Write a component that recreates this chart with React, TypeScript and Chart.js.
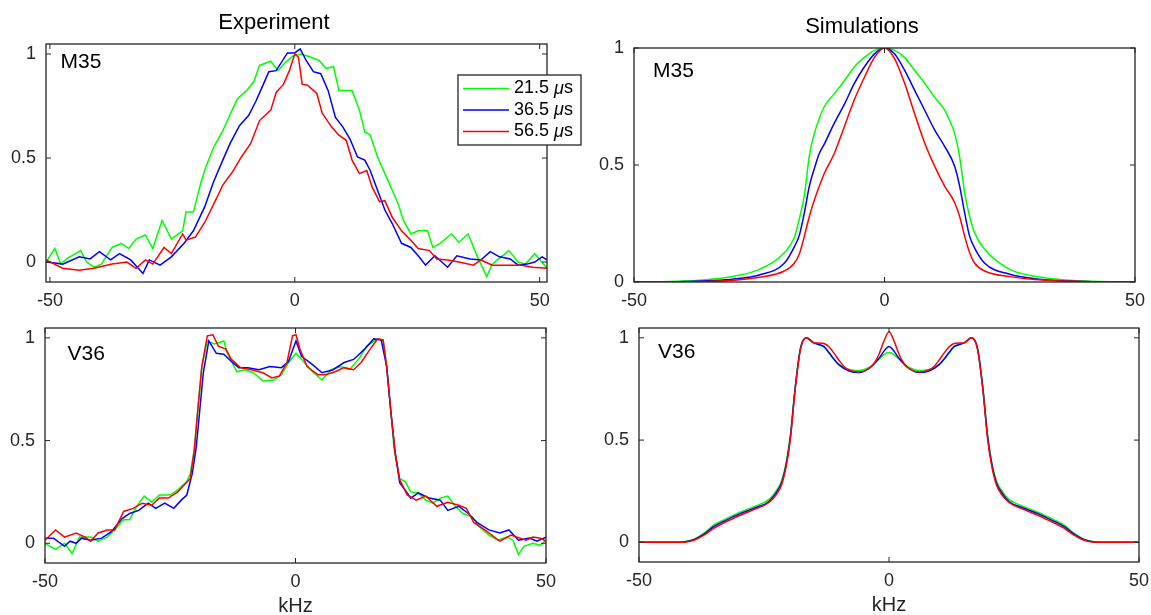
import React, { useEffect, useRef } from 'react';
import { Chart, registerables } from 'chart.js';

Chart.register(...registerables);

// ---------- data ----------
const SERIES_LABELS = ['21.5 μs', '36.5 μs', '56.5 μs'];
const SERIES_COLORS = ['#00ff00', '#0000ff', '#ff0000'];
const X_TICKS = [-50, 0, 50];
const Y_TICKS = [0, 0.5, 1];
const PANEL_TITLES = ['Experiment', 'Simulations'];
const PANEL_TAGS = ['M35', 'M35', 'V36', 'V36'];
const X_LABEL = 'kHz';

// Experiment, M35 (x in kHz, normalized intensity)
const EXP_M35_215: number[][] = [
  [-50.8, 0.0], [-49, 0.065], [-47.8, -0.01], [-46.3, 0.02], [-43.7, 0.055], [-42.5, 0.0], [-41, -0.025],
  [-39.5, -0.01], [-37.3, 0.07], [-35.4, 0.09], [-33.9, 0.065], [-32.4, 0.11], [-30.5, 0.13], [-29, 0.065],
  [-27.1, 0.2], [-25.2, 0.11], [-22.9, 0.15], [-22.2, 0.24], [-20.7, 0.24], [-19.2, 0.38], [-18.1, 0.46],
  [-16.6, 0.55], [-14.7, 0.63], [-13.2, 0.71], [-11.7, 0.785], [-9.8, 0.825], [-8.3, 0.87], [-7.2, 0.945],
  [-4.9, 0.965], [-3.4, 0.92], [-1.9, 0.96], [-0.4, 0.99], [1.1, 1.0], [2.6, 0.99], [4.9, 0.97], [6.4, 0.93],
  [7.9, 0.94], [9.0, 0.825], [11.7, 0.825], [13.2, 0.73], [14.3, 0.625], [15.4, 0.61], [16.9, 0.505],
  [18.4, 0.425], [19.9, 0.345], [21.1, 0.28], [22.2, 0.2], [23.7, 0.135], [25.2, 0.15], [27.1, 0.15],
  [28.2, 0.07], [29.7, 0.09], [32, 0.135], [33.5, 0.095], [35.4, 0.135], [37.3, 0.025], [39.2, -0.07],
  [40.3, -0.01], [43.7, 0.055], [45.6, 0.0], [47.1, -0.01], [49, 0.04], [51.5, -0.03],
];
const EXP_M35_365: number[][] = [
  [-50.8, 0.0], [-49, -0.005], [-47.4, -0.01], [-44, 0.025], [-41.8, 0.015], [-39.9, 0.05], [-37.6, 0.01],
  [-35.8, 0.04], [-33.5, 0.01], [-31, -0.055], [-29.7, 0.01], [-27.5, -0.015], [-25.2, 0.025], [-22.6, 0.09],
  [-20.7, 0.15], [-18.4, 0.265], [-16.6, 0.385], [-14.7, 0.49], [-13.2, 0.57], [-11.3, 0.655], [-9.4, 0.705],
  [-7.9, 0.775], [-6.4, 0.855], [-5.3, 0.915], [-3.8, 0.92], [-1.5, 1.005], [0, 1.005], [1.1, 1.025],
  [2.3, 0.97], [3.8, 0.915], [5.3, 0.905], [6.8, 0.825], [8.3, 0.695], [9.8, 0.65], [11.3, 0.59],
  [12.8, 0.505], [14.3, 0.49], [15.4, 0.44], [16.9, 0.345], [18.4, 0.25], [19.9, 0.185], [21.8, 0.09],
  [23.7, 0.07], [25.2, 0.03], [26.7, -0.015], [28.6, 0.03], [31.2, -0.025], [33.1, 0.03], [35.8, 0.015],
  [38, 0.01], [39.9, 0.05], [41.8, 0.025], [44, 0.015], [45.6, -0.015], [47.4, -0.01], [49, 0.0],
  [50.5, 0.025], [51.5, 0.01],
];
const EXP_M35_565: number[][] = [
  [-50.8, 0.01], [-47.4, -0.03], [-44, -0.04], [-41, -0.03], [-37.3, -0.01], [-34.3, 0.0], [-32.4, -0.03],
  [-30.5, 0.01], [-29, -0.01], [-26.7, 0.07], [-25.2, 0.04], [-22.9, 0.135], [-22.2, 0.105], [-20.3, 0.12],
  [-18.4, 0.19], [-16.2, 0.295], [-14.7, 0.37], [-12.8, 0.43], [-10.9, 0.505], [-9, 0.57], [-7.2, 0.68],
  [-4.9, 0.73], [-3.8, 0.815], [-2.3, 0.855], [-1.1, 0.92], [0, 1.0], [0.75, 0.985], [1.5, 0.855],
  [2.6, 0.85], [4.5, 0.81], [5.6, 0.715], [7.5, 0.65], [9, 0.61], [10.5, 0.585], [11.7, 0.49], [13.2, 0.425],
  [14.7, 0.44], [15.8, 0.36], [17.3, 0.29], [18.4, 0.295], [19.9, 0.215], [21.8, 0.15], [23.7, 0.105],
  [25.2, 0.065], [27.5, 0.055], [29, 0.015], [31.2, 0.01], [33.5, 0.0], [36.5, -0.015], [38, 0.01],
  [40.3, -0.015], [43.3, -0.015], [46.3, -0.015], [48.6, -0.025], [51.5, -0.03],
];

// Simulations, M35
const SIM_M35_215: number[][] = [
  [-50, 0], [-40, 0.004], [-30, 0.025], [-25, 0.054], [-20, 0.125], [-18, 0.19], [-17, 0.27], [-16, 0.37],
  [-15, 0.54], [-14, 0.635], [-13, 0.7], [-12, 0.75], [-10, 0.805], [-8, 0.86], [-6, 0.92], [-4, 0.96],
  [-2, 0.99], [0, 1], [2, 0.99], [4, 0.96], [6, 0.905], [8, 0.85], [10, 0.79], [12, 0.735], [13, 0.69],
  [14, 0.635], [15, 0.535], [16, 0.38], [17, 0.28], [18, 0.21], [20, 0.14], [25, 0.054], [30, 0.025],
  [40, 0.004], [50, 0],
];
const SIM_M35_365: number[][] = [
  [-50, 0], [-40, 0.002], [-30, 0.013], [-25, 0.03], [-20, 0.08], [-18, 0.15], [-17, 0.2], [-16, 0.295],
  [-15, 0.41], [-14, 0.485], [-13, 0.55], [-12, 0.59], [-10, 0.68], [-8, 0.76], [-6, 0.85], [-4, 0.92],
  [-2, 0.975], [0, 1], [2, 0.975], [4, 0.905], [6, 0.82], [8, 0.735], [10, 0.65], [12, 0.58], [14, 0.495],
  [15, 0.41], [16, 0.295], [17, 0.195], [18, 0.145], [20, 0.08], [25, 0.033], [30, 0.014], [40, 0.002],
  [50, 0],
];
const SIM_M35_565: number[][] = [
  [-50, 0], [-40, 0.001], [-30, 0.008], [-25, 0.02], [-20, 0.047], [-18, 0.08], [-17, 0.12], [-16, 0.195],
  [-15, 0.28], [-14, 0.35], [-13, 0.41], [-12, 0.465], [-10, 0.55], [-8, 0.665], [-6, 0.78], [-4, 0.875],
  [-2, 0.96], [0, 1], [2, 0.955], [4, 0.85], [6, 0.72], [8, 0.595], [10, 0.495], [12, 0.41], [14, 0.34],
  [15, 0.28], [16, 0.195], [17, 0.125], [18, 0.08], [20, 0.047], [25, 0.023], [30, 0.011], [40, 0.002],
  [50, 0],
];

// Experiment, V36
const EXP_V36_215: number[][] = [
  [-50, 0.0], [-47.9, -0.03], [-46.1, 0.0], [-44.6, -0.05], [-43.1, 0.03], [-40.9, 0.03], [-39.4, 0.01],
  [-37.6, 0.03], [-36.1, 0.065], [-34.3, 0.115], [-33.1, 0.115], [-31.7, 0.18], [-30.2, 0.23], [-28.7, 0.2],
  [-27.2, 0.235], [-25, 0.235], [-23.5, 0.26], [-21.7, 0.3], [-21, 0.34], [-20.2, 0.455], [-19.5, 0.65],
  [-18.7, 0.86], [-17.6, 0.985], [-16.2, 0.97], [-14.3, 0.985], [-13.6, 0.925], [-11.7, 0.835],
  [-10.2, 0.845], [-8.4, 0.83], [-6.5, 0.79], [-4.3, 0.795], [-2.8, 0.82], [-1.4, 0.88], [0.1, 0.925],
  [1.6, 0.885], [3.4, 0.835], [5.3, 0.795], [7.1, 0.845], [9, 0.86], [10.8, 0.845], [12.7, 0.9],
  [14.2, 0.96], [16.4, 0.995], [17.5, 0.985], [18.2, 0.86], [19, 0.65], [19.7, 0.455], [20.8, 0.315],
  [21.9, 0.3], [23, 0.25], [24.5, 0.245], [26, 0.21], [27.4, 0.195], [28.9, 0.22], [30.4, 0.23],
  [31.9, 0.18], [33.4, 0.145], [35.2, 0.13], [36.7, 0.08], [38.6, 0.04], [40.4, 0.015], [42.2, 0.03],
  [43.4, 0.015], [44.5, -0.055], [45.6, -0.015], [47.4, 0.0], [48.9, -0.01], [50, 0.015],
];
const EXP_V36_365: number[][] = [
  [-50, 0.025], [-48.3, 0.025], [-46.1, -0.015], [-45, 0.01], [-43.8, 0.0], [-42.7, 0.025], [-40.9, 0.015],
  [-38.7, 0.025], [-36.8, 0.055], [-34.6, 0.12], [-33.1, 0.145], [-31.3, 0.16], [-29.4, 0.195],
  [-27.9, 0.17], [-26.1, 0.195], [-24.3, 0.17], [-22.8, 0.21], [-21.7, 0.235], [-20.6, 0.34], [-19.8, 0.47],
  [-19.1, 0.65], [-18.4, 0.83], [-17.3, 0.985], [-15.8, 0.925], [-14.3, 0.92], [-12.8, 0.885],
  [-11.3, 0.855], [-9.5, 0.855], [-7.3, 0.845], [-5.1, 0.86], [-2.8, 0.855], [-1.4, 0.885], [0.1, 0.985],
  [1.2, 0.91], [3.4, 0.87], [5.3, 0.83], [7.5, 0.845], [9.7, 0.88], [11.6, 0.895], [13.8, 0.945],
  [15.6, 0.995], [17.1, 0.99], [18.2, 0.86], [19, 0.65], [19.9, 0.44], [20.8, 0.295], [22.3, 0.245],
  [23, 0.22], [24.5, 0.245], [26.7, 0.22], [28.9, 0.21], [30.4, 0.16], [32.6, 0.18], [34.5, 0.145],
  [36.3, 0.1], [38.6, 0.065], [40.8, 0.05], [42.6, 0.065], [44.5, 0.015], [46.7, 0.025], [48.2, 0.01],
  [50, 0.03],
];
const EXP_V36_565: number[][] = [
  [-50, 0.015], [-47.9, 0.065], [-46.1, 0.03], [-43.8, 0.05], [-42, 0.03], [-40.9, 0.01], [-39.4, 0.05],
  [-37.6, 0.065], [-36.1, 0.065], [-34.3, 0.155], [-32.4, 0.17], [-30.6, 0.195], [-28.7, 0.185],
  [-27.2, 0.22], [-25.4, 0.22], [-23.5, 0.25], [-22, 0.29], [-21, 0.315], [-20.2, 0.455], [-19.5, 0.65],
  [-18.7, 0.86], [-17.6, 1.01], [-16.5, 1.015], [-15.4, 0.96], [-13.9, 0.945], [-12.8, 0.895],
  [-11, 0.855], [-8.8, 0.845], [-6.5, 0.83], [-4.7, 0.805], [-3.2, 0.815], [-1.7, 0.88], [-0.6, 1.01],
  [0.1, 1.015], [0.9, 0.945], [2.3, 0.86], [4.5, 0.82], [6, 0.82], [7.9, 0.835], [9.7, 0.855],
  [11.6, 0.845], [13.1, 0.88], [14.9, 0.945], [16.4, 0.995], [17.5, 0.99], [18.2, 0.86], [19, 0.65],
  [19.9, 0.44], [20.8, 0.31], [22.3, 0.235], [24.1, 0.21], [26, 0.23], [28.2, 0.18], [30.4, 0.2],
  [32.6, 0.185], [34.1, 0.17], [35.6, 0.1], [37.8, 0.065], [40.8, 0.01], [43, 0.04], [46, 0.015],
  [47.4, 0.03], [48.9, 0.025], [50, 0.01],
];

// Simulations, V36
const SIM_V36_215: number[][] = [
  [-50, 0], [-43, 0], [-41, 0.003], [-39, 0.015], [-37, 0.045], [-35, 0.085], [-33, 0.11], [-30, 0.145],
  [-27, 0.175], [-24, 0.21], [-22.5, 0.255], [-21.5, 0.3], [-20.5, 0.4], [-19.7, 0.53], [-18.8, 0.75],
  [-17.7, 0.95], [-16.5, 1.0], [-15, 0.975], [-14, 0.965], [-13, 0.955], [-12, 0.925], [-11, 0.895],
  [-10, 0.87], [-8, 0.845], [-6, 0.84], [-4, 0.855], [-2, 0.895], [-1, 0.918], [0, 0.928],
  [1, 0.918], [2, 0.895], [4, 0.855], [6, 0.84], [8, 0.845], [10, 0.87], [11, 0.895], [12, 0.925],
  [13, 0.955], [14, 0.965], [15, 0.975], [16.5, 1.0], [17.7, 0.95], [18.8, 0.75], [19.7, 0.53],
  [20.5, 0.4], [21.5, 0.3], [22.5, 0.255], [24, 0.21], [27, 0.175], [30, 0.145], [33, 0.11], [35, 0.085],
  [37, 0.045], [39, 0.015], [41, 0.003], [43, 0], [50, 0],
];
const SIM_V36_365: number[][] = [
  [-50, 0], [-43, 0], [-41, 0.002], [-39, 0.013], [-37, 0.04], [-35, 0.078], [-33, 0.103], [-30, 0.138],
  [-27, 0.167], [-24, 0.2], [-22.5, 0.245], [-21.5, 0.29], [-20.5, 0.39], [-19.7, 0.52], [-18.8, 0.745],
  [-17.7, 0.948], [-16.5, 1.0], [-15, 0.975], [-14, 0.967], [-13, 0.957], [-12, 0.928], [-11, 0.895],
  [-10, 0.868], [-8, 0.838], [-6, 0.83], [-4, 0.85], [-2, 0.9], [-1, 0.935], [0, 0.958],
  [1, 0.935], [2, 0.9], [4, 0.85], [6, 0.83], [8, 0.838], [10, 0.868], [11, 0.895], [12, 0.928],
  [13, 0.957], [14, 0.967], [15, 0.975], [16.5, 1.0], [17.7, 0.948], [18.8, 0.745], [19.7, 0.52],
  [20.5, 0.39], [21.5, 0.29], [22.5, 0.245], [24, 0.2], [27, 0.167], [30, 0.138], [33, 0.103], [35, 0.078],
  [37, 0.04], [39, 0.013], [41, 0.002], [43, 0], [50, 0],
];
const SIM_V36_565: number[][] = [
  [-50, 0], [-43, 0], [-41, 0.001], [-39, 0.01], [-37, 0.035], [-35, 0.07], [-33, 0.095], [-30, 0.13],
  [-27, 0.16], [-24, 0.195], [-22.5, 0.235], [-21.5, 0.28], [-20.5, 0.38], [-19.7, 0.51], [-18.8, 0.74],
  [-17.7, 0.945], [-16.5, 1.0], [-15, 0.975], [-14, 0.975], [-13, 0.972], [-12, 0.955], [-11, 0.925],
  [-10, 0.89], [-9, 0.86], [-8, 0.843], [-6, 0.833], [-4, 0.85], [-3, 0.875], [-2, 0.92], [-1, 0.985],
  [0, 1.03], [1, 0.985], [2, 0.92], [3, 0.875], [4, 0.85], [6, 0.833], [8, 0.843], [9, 0.86], [10, 0.89],
  [11, 0.925], [12, 0.955], [13, 0.972], [14, 0.975], [15, 0.975], [16.5, 1.0], [17.7, 0.945],
  [18.8, 0.74], [19.7, 0.51], [20.5, 0.38], [21.5, 0.28], [22.5, 0.235], [24, 0.195], [27, 0.16],
  [30, 0.13], [33, 0.095], [35, 0.07], [37, 0.035], [39, 0.01], [41, 0.001], [43, 0], [50, 0],
];

// axis ranges
const X_RANGE_EXP_M35 = [-50.8, 51.5];
const X_RANGE_STD = [-50, 50];
const Y_RANGE_EXP = [-0.096, 1.048];
const Y_RANGE_SIM_M35 = [0, 1];

// ---------- layout / style ----------
const FONT = "'Liberation Sans', Arial, Helvetica, sans-serif";
const INK = '#262626';
const INSET_L = 45;
const INSET_T = 44;

type Panel = {
  box: { l: number; r: number; t: number; b: number };
  insetR: number;
  insetB: number;
  xRange: number[];
  yRange: number[];
  series: number[][][];
  smooth: boolean;
  title?: string;
  tag: string;
  tagPos: [number, number];
  xTitle?: string;
  legend?: boolean;
};

const PANELS: Panel[] = [
  {
    box: { l: 46, r: 547, t: 44, b: 282 }, insetR: 40, insetB: 36,
    xRange: X_RANGE_EXP_M35, yRange: Y_RANGE_EXP,
    series: [EXP_M35_215, EXP_M35_365, EXP_M35_565], smooth: false,
    title: PANEL_TITLES[0], tag: PANEL_TAGS[0], tagPos: [14.5, 18], legend: true,
  },
  {
    box: { l: 634, r: 1135, t: 48, b: 282 }, insetR: 12, insetB: 36,
    xRange: X_RANGE_STD, yRange: Y_RANGE_SIM_M35,
    series: [SIM_M35_215, SIM_M35_365, SIM_M35_565], smooth: true,
    title: PANEL_TITLES[1], tag: PANEL_TAGS[1], tagPos: [19, 23],
  },
  {
    box: { l: 45, r: 546, t: 328, b: 563 }, insetR: 12, insetB: 53,
    xRange: X_RANGE_STD, yRange: Y_RANGE_EXP,
    series: [EXP_V36_215, EXP_V36_365, EXP_V36_565], smooth: false,
    tag: PANEL_TAGS[2], tagPos: [22.5, 26.5], xTitle: X_LABEL,
  },
  {
    box: { l: 639, r: 1139, t: 328, b: 562 }, insetR: 12, insetB: 53,
    xRange: X_RANGE_STD, yRange: Y_RANGE_EXP,
    series: [SIM_V36_215, SIM_V36_365, SIM_V36_565], smooth: true,
    tag: PANEL_TAGS[3], tagPos: [19, 24.5], xTitle: X_LABEL,
  },
];

function makeFramePlugin() {
  return {
    id: 'frameTicks',
    afterDatasetsDraw(chart: any) {
      const { ctx, chartArea: a, scales } = chart;
      ctx.save();
      ctx.strokeStyle = INK;
      ctx.lineWidth = 1.3;
      ctx.strokeRect(a.left, a.top, a.right - a.left, a.bottom - a.top);
      ctx.lineWidth = 1;
      ctx.beginPath();
      const len = 5;
      for (const v of X_TICKS) {
        const px = scales.x.getPixelForValue(v);
        if (px < a.left - 0.5 || px > a.right + 0.5) continue;
        ctx.moveTo(px, a.bottom);
        ctx.lineTo(px, a.bottom - len);
        ctx.moveTo(px, a.top);
        ctx.lineTo(px, a.top + len);
      }
      for (const v of Y_TICKS) {
        const py = scales.y.getPixelForValue(v);
        if (py < a.top - 0.5 || py > a.bottom + 0.5) continue;
        ctx.moveTo(a.left, py);
        ctx.lineTo(a.left + len, py);
        ctx.moveTo(a.right, py);
        ctx.lineTo(a.right - len, py);
      }
      ctx.stroke();
      ctx.restore();
    },
  };
}

function makeTagPlugin(tag: string, pos: [number, number]) {
  return {
    id: 'panelTag',
    afterDraw(chart: any) {
      const { ctx, chartArea: a } = chart;
      ctx.save();
      ctx.fillStyle = '#000';
      ctx.font = `21px ${FONT}`;
      ctx.textAlign = 'left';
      ctx.textBaseline = 'middle';
      ctx.fillText(tag, a.left + pos[0], a.top + pos[1]);
      ctx.restore();
    },
  };
}

function makeLegendPlugin() {
  return {
    id: 'floatLegend',
    afterDraw(chart: any) {
      const { ctx, chartArea: a } = chart;
      const bx = a.left + 412;
      const by = a.top + 31;
      const bw = 123;
      const bh = 70;
      ctx.save();
      ctx.fillStyle = '#fff';
      ctx.fillRect(bx, by, bw, bh);
      ctx.strokeStyle = INK;
      ctx.lineWidth = 1.3;
      ctx.strokeRect(bx, by, bw, bh);
      chart.data.datasets.forEach((ds: any, i: number) => {
        const y = by + 13.5 + i * 21.5;
        ctx.strokeStyle = ds.borderColor;
        ctx.lineWidth = 1.5;
        ctx.beginPath();
        ctx.moveTo(bx + 5, y);
        ctx.lineTo(bx + 51, y);
        ctx.stroke();
        const label: string = ds.label;
        const k = label.indexOf('μ');
        const pre = label.slice(0, k);
        const mu = 'μ';
        const post = label.slice(k + 1);
        ctx.fillStyle = '#000';
        ctx.textBaseline = 'middle';
        ctx.textAlign = 'left';
        let x = bx + 56;
        ctx.font = `18px ${FONT}`;
        ctx.fillText(pre, x, y);
        x += ctx.measureText(pre).width;
        ctx.font = `italic 18px ${FONT}`;
        ctx.fillText(mu, x, y);
        x += ctx.measureText(mu).width;
        ctx.font = `18px ${FONT}`;
        ctx.fillText(post, x, y);
      });
      ctx.restore();
    },
  };
}

function makeConfig(p: Panel): any {
  const order = [2, 1, 0];
  const plugins: any[] = [makeFramePlugin(), makeTagPlugin(p.tag, p.tagPos)];
  if (p.legend) plugins.push(makeLegendPlugin());
  return {
    type: 'line',
    data: {
      datasets: p.series.map((s, i) => ({
        label: SERIES_LABELS[i],
        data: s.map(([x, y]) => ({ x, y })),
        borderColor: SERIES_COLORS[i],
        backgroundColor: SERIES_COLORS[i],
        borderWidth: 1.5,
        pointRadius: 0,
        pointHoverRadius: 0,
        fill: false,
        tension: 0,
        cubicInterpolationMode: p.smooth ? 'monotone' : 'default',
        order: order[i],
      })),
    },
    options: {
      responsive: false,
      animation: false,
      devicePixelRatio: 1,
      events: [],
      layout: { padding: { left: 0, top: p.title ? 0 : INSET_T, right: p.insetR, bottom: 0 } },
      plugins: {
        legend: { display: false },
        tooltip: { enabled: false },
        title: {
          display: !!p.title,
          text: p.title || '',
          color: '#000',
          font: { family: FONT, size: 22, weight: 'normal', lineHeight: 1 },
          padding: { top: 12, bottom: 10 },
        },
      },
      scales: {
        x: {
          type: 'linear',
          position: 'bottom',
          min: p.xRange[0],
          max: p.xRange[1],
          bounds: 'data',
          grid: { display: false, drawTicks: false, tickLength: 0 },
          border: { display: false },
          ticks: {
            color: INK,
            font: { family: FONT, size: 18, lineHeight: 1.2 },
            padding: 8,
            maxRotation: 0,
            autoSkip: false,
            callback: (v: any) => String(v),
          },
          title: {
            display: !!p.xTitle,
            text: p.xTitle || '',
            color: INK,
            font: { family: FONT, size: 20, lineHeight: 1 },
            padding: 0,
          },
          afterBuildTicks: (s: any) => { s.ticks = X_TICKS.map((v) => ({ value: v })); },
          afterFit: (s: any) => {
            s.height = p.insetB;
            s.paddingLeft = 0; s.paddingRight = 0; s.paddingTop = 0; s.paddingBottom = 0;
          },
        },
        y: {
          type: 'linear',
          position: 'left',
          min: p.yRange[0],
          max: p.yRange[1],
          bounds: 'data',
          grid: { display: false, drawTicks: false, tickLength: 0 },
          border: { display: false },
          ticks: {
            color: INK,
            font: { family: FONT, size: 18 },
            padding: 10,
            autoSkip: false,
            callback: (v: any) => String(v),
          },
          afterBuildTicks: (s: any) => { s.ticks = Y_TICKS.map((v) => ({ value: v })); },
          afterFit: (s: any) => {
            s.width = INSET_L;
            s.paddingLeft = 0; s.paddingRight = 0; s.paddingTop = 0; s.paddingBottom = 0;
          },
        },
      },
    },
    plugins,
  };
}

function PanelChart({ p }: { p: Panel }) {
  const ref = useRef<HTMLCanvasElement>(null);
  const w = p.box.r - p.box.l + INSET_L + p.insetR;
  const h = p.box.b - p.box.t + INSET_T + p.insetB;
  useEffect(() => {
    if (!ref.current) return;
    const chart = new Chart(ref.current, makeConfig(p));
    return () => chart.destroy();
  }, []);
  return (
    <div style={{ position: 'absolute', left: p.box.l - INSET_L, top: p.box.t - INSET_T, width: w, height: h }}>
      <canvas ref={ref} width={w} height={h} style={{ width: w, height: h, display: 'block' }} />
    </div>
  );
}

export default function App() {
  return (
    <div style={{ position: 'fixed', left: 0, top: 0, width: 1151, height: 615, overflow: 'hidden', background: '#fff' }}>
      {PANELS.map((p, i) => (
        <PanelChart key={i} p={p} />
      ))}
    </div>
  );
}
